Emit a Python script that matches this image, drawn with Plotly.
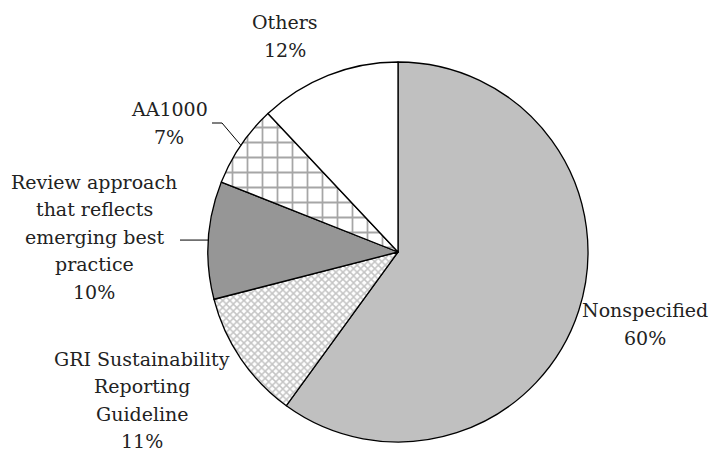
import math
import plotly.graph_objects as go

# Assurance standards referenced in reports (share of reports, %)
labels = ["Nonspecified", "GRI Sustainability Reporting Guideline",
          "Review approach that reflects emerging best practice",
          "AA1000", "Others"]
values = [60, 11, 10, 7, 12]
label_lines = [["Nonspecified", "60%"],
               ["GRI Sustainability", "Reporting", "Guideline", "11%"],
               ["Review approach", "that reflects", "emerging best",
                "practice", "10%"],
               ["AA1000", "7%"],
               ["Others", "12%"]]

W, H = 717, 455
# pie placement in pixels
cx, cy, R = 398, 252, 190
dom_x = [(cx - R) / W, (cx + R) / W]
dom_y = [1 - (cy + R) / H, 1 - (cy - R) / H]

fill = ["#c0c0c0", "white", "#969696", "white", "white"]
pat_shape = ["", "x", "", "+", ""]
pat_fg = ["#c0c0c0", "#c4c4c4", "#969696", "#a6a6a6", "white"]
pat_size = [8, 5, 8, 15, 8]
pat_solid = [0.3, 0.5, 0.3, 0.22, 0.3]

fig = go.Figure(go.Pie(
    labels=labels, values=values, sort=False, direction="clockwise",
    rotation=0, textinfo="none", hoverinfo="none",
    domain=dict(x=dom_x, y=dom_y),
    marker=dict(colors=fill, line=dict(color="black", width=1.3),
                pattern=dict(shape=pat_shape, fgcolor=pat_fg, bgcolor=fill,
                             size=pat_size, solidity=pat_solid,
                             fillmode="replace")),
))

def px(x):
    return x / W

def py(y):
    return 1 - y / H

# label block centres in pixels, one annotation per text line
label_pos = [(645, 324), (142, 400), (94, 236.5), (169, 123), (285, 36)]
pitch = 27.5
font = dict(family="DejaVu Serif", size=19, color="#222222")
for lines, (lx, ly) in zip(label_lines, label_pos):
    n = len(lines)
    for k, line in enumerate(lines):
        yk = ly + (k - (n - 1) / 2) * pitch
        fig.add_annotation(x=px(lx), y=py(yk), xref="paper", yref="paper",
                           text=line, showarrow=False, font=font,
                           xanchor="center", yanchor="middle", align="center")

# leader lines ending on the rim at each slice's mid-angle
total = sum(values)
cum = 0
mids = []
for v in values:
    mids.append((cum + v / 2) / total * 2 * math.pi)
    cum += v

def rim(i):
    a = mids[i]
    return cx + R * math.sin(a), cy - R * math.cos(a)

# Review approach
ex, ey = rim(2)
fig.add_shape(type="path", xref="paper", yref="paper",
              path=f"M {px(180)} {py(ey)} L {px(ex)} {py(ey)}",
              line=dict(color="black", width=1))
# AA1000
ex, ey = rim(3)
fig.add_shape(type="path", xref="paper", yref="paper",
              path=f"M {px(212)} {py(123)} L {px(222)} {py(123)} L {px(ex)} {py(ey)}",
              line=dict(color="black", width=1))

fig.update_layout(width=W, height=H, margin=dict(l=0, r=0, t=0, b=0),
                  paper_bgcolor="white", plot_bgcolor="white",
                  showlegend=False)
fig.write_html("out.html")
